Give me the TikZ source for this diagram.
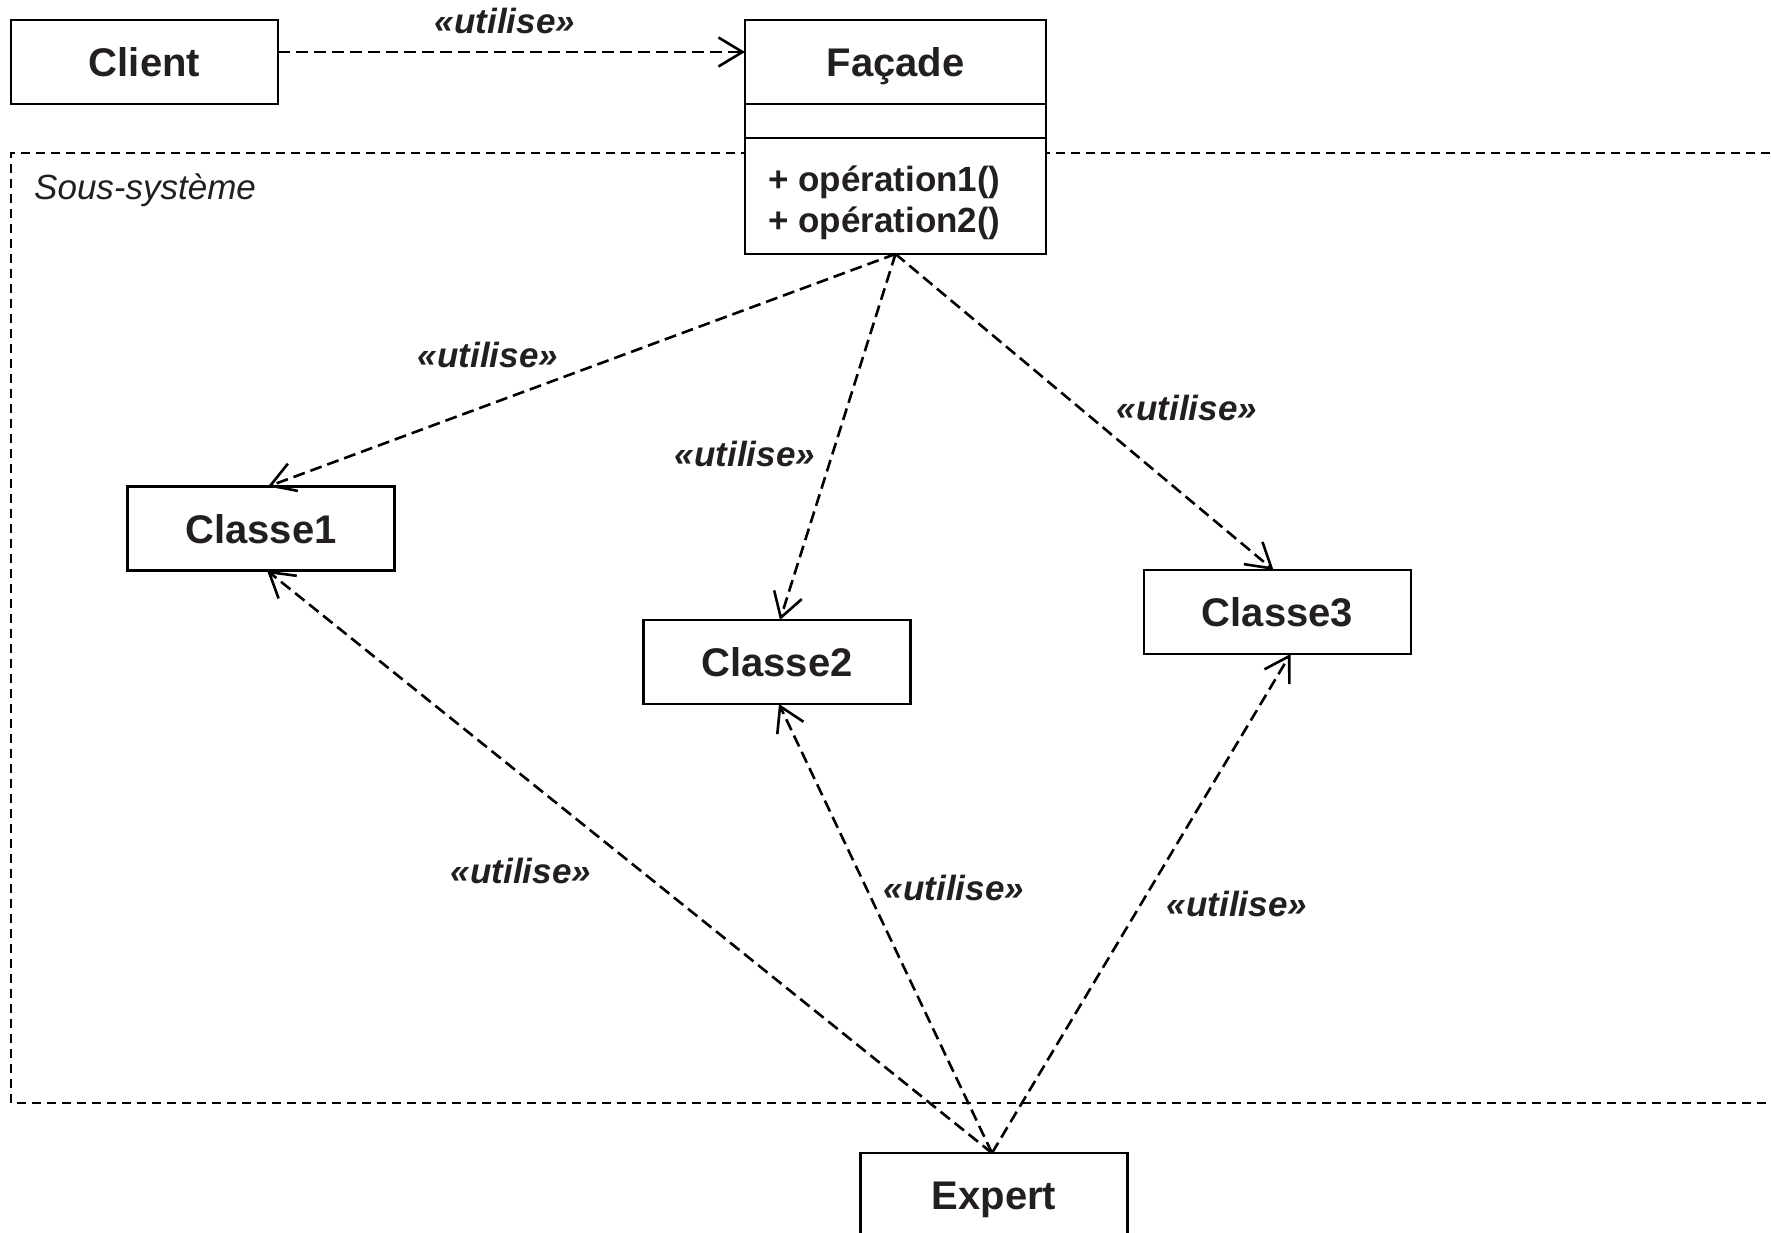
\documentclass[tikz,border=0pt]{standalone}
\usepackage{fontspec}
\setmainfont{Liberation Sans}
\usetikzlibrary{arrows.meta,calc}
\definecolor{ink}{HTML}{231F20}
\begin{document}
\begin{tikzpicture}[x=1pt,y=-1pt,
  box/.style={draw=black, line width=2.7pt, fill=white, minimum width=267pt,
    minimum height=84pt, inner sep=0pt, outer sep=0pt, text=ink,
    text height=29pt, text depth=0pt,
    font=\fontsize{40}{48}\selectfont\bfseries},
  dep/.style={line width=2.6pt, dash pattern=on 12pt off 6pt,
    -{Straight Barb[length=24pt,width=29pt]}},
  stereo/.style={text=ink, inner sep=0pt,
    font=\fontsize{35}{42}\selectfont\bfseries\itshape},
  optext/.style={text=ink, inner sep=0pt, anchor=west, text height=25pt, text depth=0pt,
    font=\fontsize{35}{42}\selectfont\bfseries},
]
\useasboundingbox (0,0) rectangle (1771,1232);
\clip (0,0) rectangle (1771,1232);
\fill[white] (0,0) rectangle (1771,1232);

% subsystem frame (open on the right)
\draw[line width=2.2pt, dash pattern=on 9pt off 6pt]
  (1800,153) -- (11,153) -- (11,1103) -- (1800,1103);
\node[anchor=west, text=ink, inner sep=0pt,
  font=\fontsize{35}{42}\selectfont\itshape] (sub) at (34,190) {Sous-système};

% classes
\node[box] (cl) at (144.5,62) {Client};
\node[box, minimum width=301pt] (fac) at (895.5,62) {Façade};
\node[box, minimum width=301pt, minimum height=34pt, anchor=north] (facattr) at (fac.south) {};
\node[box, minimum width=301pt, minimum height=116pt, anchor=north] (facops) at (facattr.south) {};
\node[optext] (op1) at (768,179) {+ opération1()};
\node[optext] (op2) at (768,220) {+ opération2()};
\node[box] (c1) at (261,528.5) {Classe1};
\node[box] (c2) at (777,662) {Classe2};
\node[box] (c3) at (1277.5,612) {Classe3};
\node[box] (exp) at (994,1195) {Expert};

% dependencies
\coordinate (cy) at (0,52);
\draw[dep] (cl.east |- cy) -- (fac.west |- cy);
\draw[dep] (facops.south) -- ($(c1.north)+(7,0)$);
\draw[dep] (facops.south) -- ($(c2.north)+(3,0)$);
\draw[dep] (facops.south) -- ($(c3.north)+(-4,0)$);
\coordinate (ex) at ($(exp.north)+(-2,0)$);
\draw[dep] (ex) -- ($(c1.south)+(6,0)$);
\draw[dep] (ex) -- ($(c2.south)+(2,0)$);
\draw[dep] (ex) -- ($(c3.south)+(13,0)$);

% stereotypes
\node[stereo] (l0) at (505,21) {«utilise»};
\node[stereo] (l1) at (488,355) {«utilise»};
\node[stereo] (l2) at (745,454) {«utilise»};
\node[stereo] (l3) at (1187,408) {«utilise»};
\node[stereo] (l4) at (521,871) {«utilise»};
\node[stereo] (l5) at (954,888) {«utilise»};
\node[stereo] (l6) at (1237,904) {«utilise»};
\end{tikzpicture}
\end{document}
